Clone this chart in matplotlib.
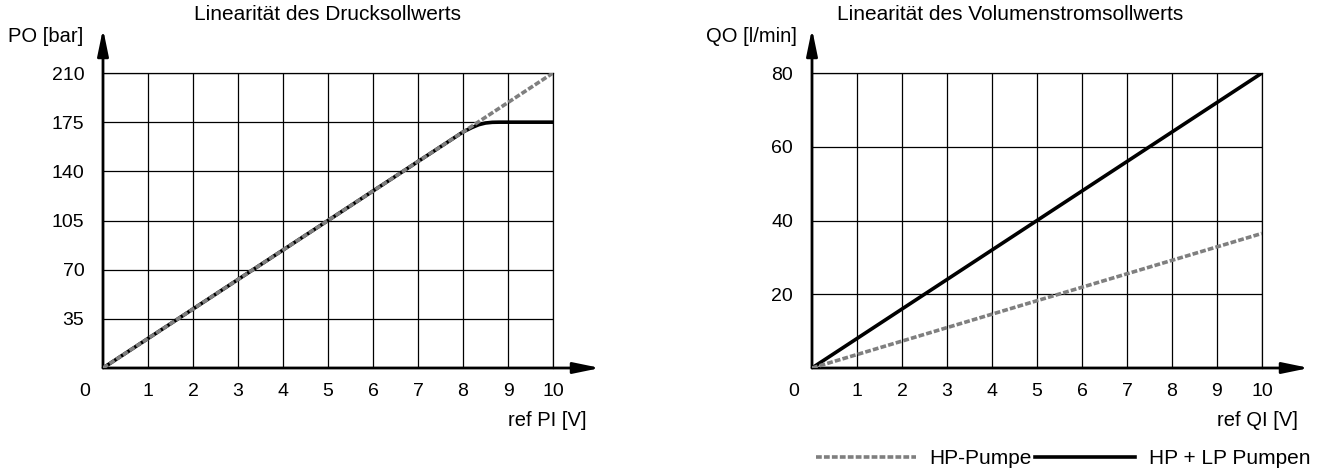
import matplotlib.pyplot as plt

plt.rcParams['font.family'] = ['Liberation Sans', 'DejaVu Sans']

# Daten: Drucksollwert
p_ref = [0, 2, 4, 6, 8, 10]
p_hp = [0, 42, 84, 126, 168, 210]
p_ref_real = [0, 4, 8.0, 8.2, 8.35, 8.5, 8.65, 8.8, 10]
p_real = [0, 84, 168, 171.2, 173.2, 174.4, 174.9, 175, 175]
p_ticks = [35, 70, 105, 140, 175, 210]

# Daten: Volumenstromsollwert
q_ref = [0, 10]
q_hp = [0, 36.5]
q_hplp = [0, 80]
q_ticks = [20, 40, 60, 80]

x_ticks = list(range(1, 11))

fig = plt.figure(figsize=(13.21, 4.72), dpi=100)
W, H = 1321, 472
FS = 14

gray = '#7f7f7f'
dash = dict(color=gray, lw=2.6, dashes=(1.6, 0.6))
solid = dict(color='black', lw=2.6)


def px(x, y):
    # Pixel -> Figurkoordinaten
    return x / W, 1 - y / H


def setup(ax, ylim, yticks, ylabel, ylab_x, xlabel, xlab_x, title, title_x):
    ax.set_xlim(0, 10)
    ax.set_ylim(0, ylim)
    ax.set_xticks(x_ticks)
    ax.set_yticks(yticks)
    ax.tick_params(length=0, labelsize=FS, pad=10.5)
    ax.tick_params(axis='y', pad=13.5)
    ax.grid(True, color='black', lw=0.9)
    for s in ['top', 'right']:
        ax.spines[s].set_linewidth(0.9)
    for s in ['left', 'bottom']:
        ax.spines[s].set_visible(False)
    # Achsenpfeile
    arrow = dict(arrowstyle='-|>,head_length=1.6,head_width=0.33',
                 lw=2, color='black', shrinkA=0, shrinkB=0)
    ax.annotate('', xy=(1.105, 0), xytext=(0, 0), xycoords='axes fraction',
                arrowprops=arrow, annotation_clip=False)
    ax.annotate('', xy=(0, 1.15), xytext=(0, 0), xycoords='axes fraction',
                arrowprops=arrow, annotation_clip=False)
    ax.text(-0.04, -0.078, '0', transform=ax.transAxes, fontsize=FS,
            ha='center', va='center')
    fig.text(*px(ylab_x, 37), ylabel, fontsize=14.5, ha='right', va='center')
    fig.text(*px(xlab_x, 426), xlabel, fontsize=14.5, ha='right', va='baseline')
    fig.text(*px(title_x, 20), title, fontsize=15, ha='center', va='baseline')


ax1 = fig.add_axes([103 / W, 104 / H, 450 / W, 295 / H])
ax1.plot(p_ref, p_hp, **dash, zorder=4)
ax1.plot(p_ref_real, p_real, **solid, zorder=3)
setup(ax1, 210, p_ticks, 'PO [bar]', 83, 'ref PI [V]', 587,
      'Linearität des Drucksollwerts', 328)

ax2 = fig.add_axes([812 / W, 104 / H, 450 / W, 295 / H])
l1, = ax2.plot(q_ref, q_hp, **dash, zorder=4)
l2, = ax2.plot(q_ref, q_hplp, **solid, zorder=3)
setup(ax2, 80, q_ticks, 'QO [l/min]', 797, 'ref QI [V]', 1298,
      'Linearität des Volumenstromsollwerts', 1010)

fig.legend([l1, l2], ['HP-Pumpe', 'HP + LP Pumpen'], loc='lower right',
           bbox_to_anchor=(0.995, 0.0), ncol=2, frameon=False, fontsize=15,
           handlelength=4.8, handletextpad=0.65, columnspacing=0.15,
           borderaxespad=0.1, borderpad=0.1)

fig.savefig('out.png', dpi=100)
